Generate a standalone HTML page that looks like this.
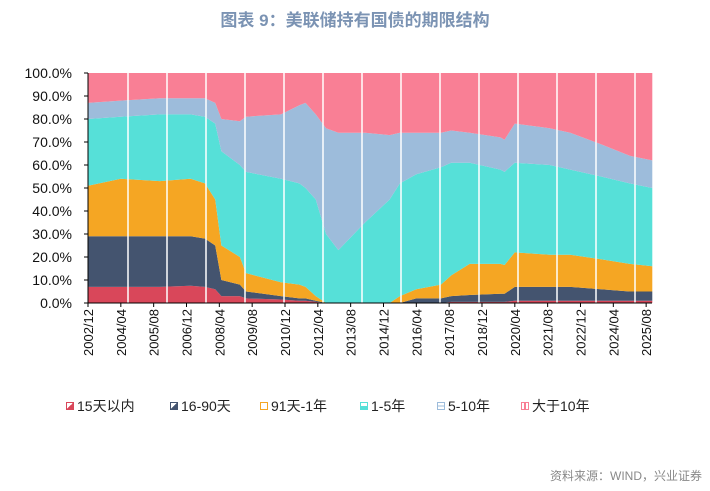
<!DOCTYPE html>
<html><head><meta charset="utf-8">
<style>
body{margin:0;background:#fff;font-family:"Liberation Sans","Noto Sans CJK SC",sans-serif;}
#wrap{position:relative;width:710px;height:491px;overflow:hidden;}
.title{position:absolute;left:0;width:710px;top:6px;text-align:center;font-size:17px;font-weight:bold;color:#7b93b3;}
.src{position:absolute;right:8px;top:467px;font-size:12px;color:#888;}
.leg{position:absolute;top:396px;font-size:14px;color:#222;display:flex;align-items:center;white-space:nowrap;}
.leg i{display:inline-block;width:8px;height:8px;border:1px solid;margin-right:3px;box-sizing:border-box;}
</style></head><body>
<div id="wrap">
<div class="title">图表 9：美联储持有国债的期限结构</div>
<svg id="chart" width="710" height="491" style="position:absolute;left:0;top:0"></svg>
<div class="leg" style="left:66px"><i style="border-color:#d9475a;background:linear-gradient(135deg,#fff 50%,#d9475a 50%)"></i>15天以内</div>
<div class="leg" style="left:170px"><i style="border-color:#44546f;background:linear-gradient(135deg,#fff 50%,#44546f 50%)"></i>16-90天</div>
<div class="leg" style="left:260px"><i style="border-color:#f5a623"></i>91天-1年</div>
<div class="leg" style="left:360px"><i style="border-color:#56e0d8;background:linear-gradient(#fff 50%,#56e0d8 50%)"></i>1-5年</div>
<div class="leg" style="left:437px"><i style="border-color:#9dbcdb;background:linear-gradient(#fff 40%,#9dbcdb 40%,#9dbcdb 60%,#fff 60%)"></i>5-10年</div>
<div class="leg" style="left:521px"><i style="border-color:#f97f95;background:linear-gradient(90deg,#fff 35%,#f97f95 35%,#f97f95 65%,#fff 65%)"></i>大于10年</div>
<div class="src">资料来源：WIND，兴业证券</div>
</div>
<script>
// months since 2002/12
const months = [0,16,35,50,57,62,65,74,77,94,103,106,111,116,122,135,147,152,160,172,177,186,201,203,208,225,235,250,264,275];
const d15   = [7,7,7,7.5,7,6,3,3,2,1.5,1,1,0.5,0,0,0,0,0,0,0,0.5,0.5,0.5,0.5,1,1,1,1,1,1];
const d16_90= [22,22,22,21.5,21,19,7,5,3,1.5,1,1,0.5,0,0,0,0,0,2,2,2.5,3,3.5,3.5,6,6,6,5,4,4];
const d91_1y= [22,25,24,25,24,20,15,12,8,6,6,5,2,0,0,0,0,3,4,6,9,13.5,13,12.5,15,14,14,13,12,11];
const y1_5  = [29,27,29,28,29,33,41,40,44,45,44,43,42,30,23,35,45,49,50,51,49,44,41,40.5,39,39,37,36,35,34];
const y5_10 = [7,7,7,7,8,9,14,19,24,28,34,37,37,46,51,39,28,22,18,15,14,13,14,14,17,16,16,14,12,12];
const tickLabels=["2002/12","2004/04","2005/08","2006/12","2008/04","2009/08","2010/12","2012/04","2013/08","2014/12","2016/04","2017/08","2018/12","2020/04","2021/08","2022/12","2024/04","2025/08"];
const yTicks=[0,10,20,30,40,50,60,70,80,90,100];

const NS="http://www.w3.org/2000/svg",svg=document.getElementById('chart');
const X0=88,X1=652,Y0=303,Y1=73;
const xs=m=>X0+m*2.052;
const ys=v=>Y0-(v/100)*(Y0-Y1);
function mk(t,a,p){const e=document.createElementNS(NS,t);for(const k in a)e.setAttribute(k,a[k]);(p||svg).appendChild(e);return e;}
const series=[d15,d16_90,d91_1y,y1_5,y5_10];
const colors=["#d9475a","#44546f","#f5a623","#56e0d8","#9dbcdb","#f97f95"];
const names=["area-15d","area-16-90d","area-91d-1y","area-1-5y","area-5-10y","area-10y-plus"];
let base=months.map(()=>0);
for(let s=0;s<6;s++){
  const vals=s<5?series[s]:months.map((_,i)=>100-base[i]);
  const top=base.map((b,i)=>b+vals[i]);
  let d="M"+months.map((m,i)=>xs(m)+","+ys(top[i])).join("L");
  for(let i=months.length-1;i>=0;i--)d+="L"+xs(months[i])+","+ys(base[i]);
  const p=mk('path',{d:d+"Z",fill:colors[s]});
  
  
  base=top;
}
// white grid lines
for(let x=128;x<=640;x+=39){const l=mk('line',{x1:x,x2:x,y1:Y1,y2:Y0,stroke:"#fff","stroke-width":1.5});

}
// axes
const ya=mk('line',{x1:X0,x2:X0,y1:Y1,y2:Y0,stroke:"#000"});


const xa=mk('line',{x1:X0,x2:X1,y1:Y0,y2:Y0,stroke:"#000"});


yTicks.forEach(v=>{
  mk('line',{x1:X0-4,x2:X0,y1:ys(v),y2:ys(v),stroke:"#000"});
  const t=mk('text',{x:X0-16,y:ys(v)+5,"text-anchor":"end","font-size":14,fill:"#111"});
  t.textContent=v.toFixed(1)+"%";
  
  
});
tickLabels.forEach((lab,i)=>{
  const x=xs(i*16);
  mk('line',{x1:x,x2:x,y1:Y0,y2:Y0+4,stroke:"#000"});
  const t=mk('text',{x:0,y:0,"text-anchor":"end","font-size":13,fill:"#111",transform:`translate(${x+5},${Y0+6}) rotate(-90)`});
  t.textContent=lab;
  
  
});
</script>
</body></html>
